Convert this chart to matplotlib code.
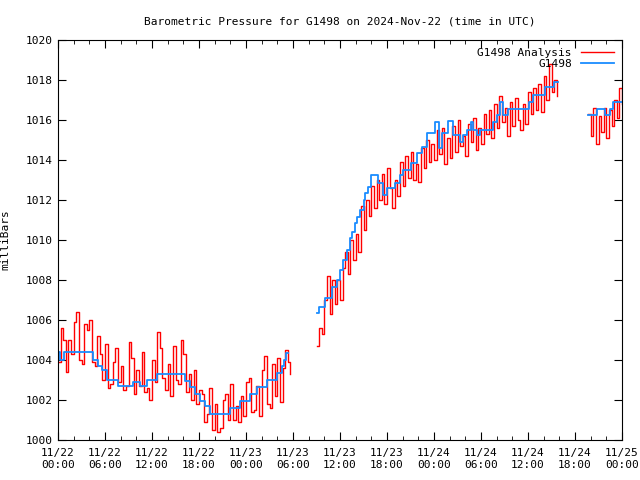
import numpy as np
import matplotlib
matplotlib.use("Agg")
import matplotlib.pyplot as plt

# Hours since 2024-11-22 00:00 UTC; NaN breaks the line at data gaps
red_seg1 = [
    1003.9, 1005.6, 1005.0, 1003.4, 1005.0, 1004.3, 1005.9, 1006.4, 1004.0,
    1003.8, 1005.8, 1005.5, 1006.0, 1003.9, 1003.7, 1005.2, 1004.3, 1003.0,
    1004.8, 1002.6, 1002.8, 1003.9, 1004.6, 1002.9, 1003.7, 1002.5, 1002.7,
    1004.9, 1004.1, 1002.3, 1003.5, 1002.7, 1004.4, 1002.4, 1002.6, 1002.0,
    1004.0, 1002.9, 1005.4, 1004.6, 1003.1, 1002.5, 1003.8, 1002.2, 1004.7,
    1003.0, 1002.8, 1005.0, 1004.3, 1002.4, 1003.3, 1002.0, 1003.5, 1001.8,
    1002.5, 1002.3, 1000.9, 1001.3, 1002.6, 1000.5, 1001.8, 1000.4, 1000.6,
    1002.0, 1002.3, 1001.0, 1002.8, 1001.0, 1001.7, 1000.9, 1002.2, 1001.2,
    1002.9, 1003.1, 1001.4, 1001.5, 1002.7, 1001.2, 1003.5, 1004.2, 1001.8,
    1001.6, 1003.8, 1002.2, 1004.1, 1001.9, 1003.6, 1004.5, 1003.9, 1003.3,
]
red_seg2 = [
    1004.7, 1005.6, 1005.3, 1007.0, 1008.2, 1006.3, 1008.0, 1006.8, 1008.0,
    1007.0, 1008.6, 1009.4, 1008.3, 1010.0, 1009.0, 1010.3, 1009.4, 1011.7,
    1010.5, 1012.0, 1011.2, 1012.7, 1011.6, 1013.0, 1012.0, 1013.3, 1011.8,
    1013.6, 1012.6, 1011.6, 1013.0, 1012.2, 1013.9, 1012.7, 1014.2, 1013.1,
    1014.4, 1013.0, 1013.8, 1012.9, 1014.6, 1013.6, 1015.0, 1013.9, 1014.8,
    1014.0, 1015.5, 1014.3, 1015.6, 1013.8, 1015.1, 1014.1, 1015.7, 1014.4,
    1016.0, 1014.7, 1015.2, 1014.2, 1015.8, 1014.9, 1016.1, 1014.5, 1015.6,
    1014.8, 1016.3, 1015.3, 1016.5, 1015.1, 1016.8, 1015.6, 1017.2, 1015.9,
    1016.6, 1015.2, 1016.9, 1015.7, 1017.1, 1016.0, 1015.5, 1016.8, 1015.8,
    1017.4, 1016.3, 1017.6, 1016.5, 1017.8, 1016.4, 1018.2, 1017.0, 1018.8,
    1017.4, 1018.0, 1017.2,
]
red_seg3 = [
    1016.3, 1015.2, 1016.6, 1014.8, 1016.2, 1015.4, 1016.6,
    1015.1, 1016.5, 1015.7, 1017.0, 1016.1, 1017.6, 1016.8,
]
red_start = [0.0, 33.0, 67.67]

blue_hours = [
    0.0, 0.3, 0.8, 4.5, 5.1, 5.6, 6.3, 7.7, 9.6, 10.5, 11.4, 12.6, 16.2, 16.9,
    17.5, 18.1, 18.8, 19.4, 22.0, 23.2, 24.5, 25.4, 26.7, 28.0, 28.6, 28.9,
    29.1, 29.4,
    33.1, 33.3, 34.1, 35.0, 35.6, 36.0, 36.4, 36.9, 37.3, 37.5, 37.9, 38.2,
    38.6, 39.0, 39.2, 39.6, 40.0, 40.9, 41.5, 42.0, 43.0, 43.7, 44.0, 45.0,
    45.8, 46.5, 47.1, 48.1, 48.7, 49.0, 49.8, 50.4, 51.3, 51.7, 52.2, 52.7,
    53.0, 53.5, 53.9, 55.5, 56.0, 56.4, 56.8, 57.4, 60.1, 60.6, 62.2, 63.3,
    63.8,
    67.7, 68.8, 69.8, 70.5, 70.9, 72.0,
]
blue_values = [
    1004.4, 1004.0, 1004.4, 1004.0, 1003.7, 1003.5, 1003.0, 1002.7, 1002.9,
    1002.7, 1003.0, 1003.3, 1002.95, 1002.65, 1002.3, 1001.95, 1001.7, 1001.3,
    1001.6, 1001.95, 1002.3, 1002.65, 1003.0, 1003.35, 1003.7, 1004.0,
    1004.35, np.nan,
    1006.35, 1006.65, 1007.1, 1007.65, 1008.0, 1008.5, 1009.0, 1009.5, 1010.1,
    1010.4, 1010.85, 1011.15, 1011.5, 1012.0, 1012.35, 1012.65, 1013.25,
    1012.85, 1012.25, 1012.6, 1012.85, 1013.25, 1013.5, 1013.85, 1014.35,
    1014.65, 1015.35, 1015.9, 1014.6, 1015.35, 1015.95, 1015.25, 1014.9,
    1015.25, 1015.5, 1015.9, 1015.5, 1015.25, 1015.5, 1015.9, 1016.25, 1016.9,
    1016.25, 1016.55, 1016.9, 1017.25, 1017.65, 1017.9, np.nan,
    1016.25, 1016.55, 1016.25, 1016.55, 1016.9, 1016.9,
]

tick_labels = ["11/22\n00:00", "11/22\n06:00", "11/22\n12:00", "11/22\n18:00",
               "11/23\n00:00", "11/23\n06:00", "11/23\n12:00", "11/23\n18:00",
               "11/24\n00:00", "11/24\n06:00", "11/24\n12:00", "11/24\n18:00",
               "11/25\n00:00"]

plt.rcParams["font.family"] = "DejaVu Sans Mono"
plt.rcParams["font.size"] = 8

fig = plt.figure(figsize=(6.4, 4.8), dpi=100)
ax = fig.add_axes([58 / 640, 40 / 480, 564 / 640, 400 / 480])

# red: build time axis at 20 minute steps, NaN between segments
red_x, red_y = [], []
for start, seg in zip(red_start, [red_seg1, red_seg2, red_seg3]):
    for i, v in enumerate(seg):
        red_x.append(start + i / 3)
        red_y.append(v)
    red_x.append(red_x[-1] + 0.01)
    red_y.append(np.nan)

ax.plot(red_x, red_y, color="#ff0000", lw=1.0, drawstyle="steps-post", label="G1498 Analysis")
ax.plot(blue_hours, blue_values, color="#1a8cff", lw=1.3, drawstyle="steps-post", label="G1498")

ax.set_xlim(0, 72)
ax.set_ylim(1000, 1020)
ax.set_xticks(range(0, 73, 6))
ax.set_xticklabels(tick_labels)
ax.set_xticks(range(0, 73, 2), minor=True)
ax.set_yticks(range(1000, 1021, 2))
ax.tick_params(which="both", direction="in", top=True, right=True)
ax.tick_params(which="major", length=6)
ax.tick_params(which="minor", length=3)
ax.tick_params(axis="x", pad=6)

ax.set_ylabel("milliBars")
ax.yaxis.set_label_coords(-0.085, 0.5)
ax.set_title("Barometric Pressure for G1498 on 2024-Nov-22 (time in UTC)", fontsize=8, pad=11)
ax.legend(loc="upper right", frameon=False, markerfirst=False, handlelength=3.0,
          borderaxespad=0.3, labelspacing=0.1)

fig.savefig("out.png", dpi=100)
